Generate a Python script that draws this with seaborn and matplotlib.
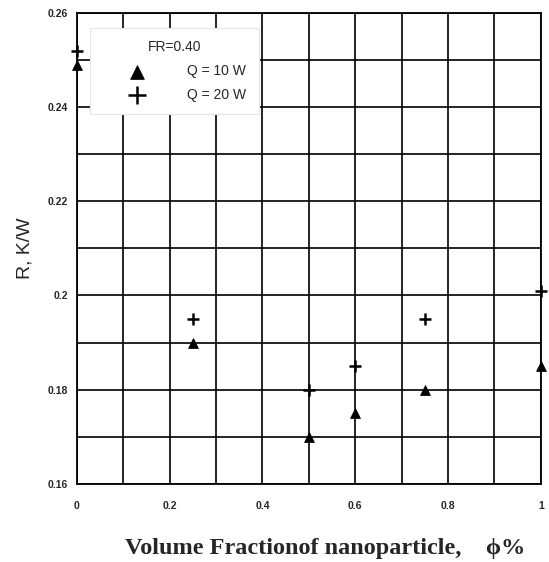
import numpy as np
import pandas as pd
import seaborn as sns
import matplotlib.pyplot as plt

# data
phi_10w = [0.0, 0.25, 0.5, 0.6, 0.75, 1.0]
r_10w = [0.249, 0.190, 0.170, 0.175, 0.180, 0.185]
phi_20w = [0.0, 0.25, 0.5, 0.6, 0.75, 1.0]
r_20w = [0.252, 0.195, 0.180, 0.185, 0.195, 0.201]
series_names = ["Q = 10 W", "Q = 20 W"]

x_ticks = [0, 0.2, 0.4, 0.6, 0.8, 1]
x_tick_labels = ["0", "0.2", "0.4", "0.6", "0.8", "1"]
y_ticks = [0.16, 0.18, 0.2, 0.22, 0.24, 0.26]
y_tick_labels = ["0.16", "0.18", "0.2", "0.22", "0.24", "0.26"]

df10 = pd.DataFrame({"phi": phi_10w, "R": r_10w, "series": series_names[0]})
df20 = pd.DataFrame({"phi": phi_20w, "R": r_20w, "series": series_names[1]})

sns.set_style("white")
plt.rcParams["font.family"] = ["Liberation Sans", "DejaVu Sans"]

fig = plt.figure(figsize=(5.49, 5.62), dpi=100)
ax = fig.add_axes([0.140, 0.139, 0.845, 0.838])

sns.scatterplot(data=df10, x="phi", y="R", marker="^", color="black", s=50,
                edgecolor="black", label=series_names[0], ax=ax, zorder=3, clip_on=False)
sns.scatterplot(data=df20, x="phi", y="R", marker="+", color="black", s=80,
                linewidth=1.8, label=series_names[1], ax=ax, zorder=3, clip_on=False)

ax.set_xlim(0, 1)
ax.set_ylim(0.16, 0.26)
ax.set_xticks(x_ticks)
ax.set_xticklabels(x_tick_labels, fontsize=7.5, fontweight="bold")
ax.set_yticks(y_ticks)
ax.set_yticklabels(y_tick_labels, fontsize=7.5, fontweight="bold")
ax.set_xticks(np.arange(0, 1.01, 0.1), minor=True)
ax.set_yticks(np.arange(0.16, 0.2601, 0.01), minor=True)
ax.grid(True, which="both", color="black", linewidth=1.2)
ax.tick_params(which="both", length=0)
ax.tick_params(axis="y", pad=6.5)
ax.tick_params(axis="x", pad=12)
for sp in ax.spines.values():
    sp.set_color("black")
    sp.set_linewidth(1.3)

ax.set_ylabel("R, K/W", fontsize=14, labelpad=10)
ax.set_xlabel("Volume Fractionof nanoparticle,    \u03d5%", fontsize=17.5, fontweight="bold",
              family=["Liberation Serif", "DejaVu Serif"], labelpad=15)
ax.xaxis.set_label_coords(0.535, -0.115)

leg = ax.legend(title="FR=0.40", loc="upper left", bbox_to_anchor=(0.028, 0.968),
                fontsize=10, title_fontsize=10, frameon=True, fancybox=False,
                edgecolor="#e6e6e6", framealpha=1, borderpad=0.9, handlelength=5,
                handletextpad=1.1, labelspacing=0.7, markerscale=1.4, borderaxespad=0)
leg.get_frame().set_linewidth(0.8)

fig.savefig("out.png", dpi=100)
